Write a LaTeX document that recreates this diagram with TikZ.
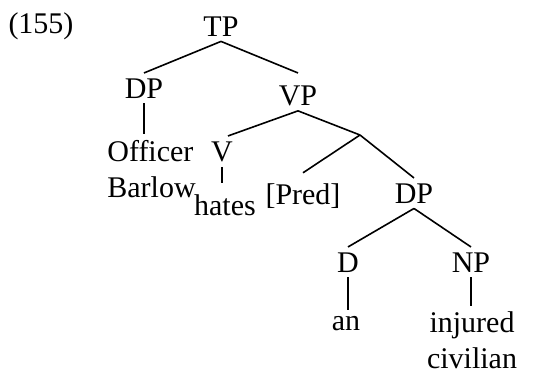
\documentclass[tikz,border=0pt]{standalone}
\usepackage{fontspec}
\setmainfont{Liberation Serif}
\usetikzlibrary{positioning}

\begin{document}
\begin{tikzpicture}[
  x=0.5pt, y=-0.5pt,
  cat/.style={inner sep=2.5pt, anchor=base, font=\fontsize{15}{18}\selectfont},
  leaf/.style={cat, align=center},
  branch/.style={line width=0.8pt},
]
\useasboundingbox (0,0) rectangle (548,376);
\node[cat] (num) at (41,33) {(155)};
\node[cat] (tp) at (221,36) {TP};
\node[cat] (dp) at (144,98) {DP};
\node[cat] (vp) at (298,105) {VP};
\node[leaf, align=left, anchor=base west] (subj) at (102,197) {Officer\\Barlow};
\node[cat] (v) at (222,161) {V};
\node[cat] (hates) at (225,215) {hates};
\coordinate (vbar) at (360,135);
\node[cat] (pred) at (303,204) {[Pred]};
\node[cat] (dpobj) at (414,203) {DP};
\node[cat] (d) at (348,272) {D};
\node[cat] (np) at (471,272) {NP};
\node[cat] (an) at (346,330) {an};
\node[leaf] (adjn) at (472,368) {injured\\civilian};
% branches
\draw[branch] (tp.south) -- (dp.north);
\draw[branch] (tp.south) -- ([yshift=3.5pt]vp.north);
\draw[branch] (dp.south) -- (dp.south |- subj.north);
\draw[branch] (vp.south) -- ([xshift=3pt]v.north);
\draw[branch] (vp.south) -- (vbar);
\draw[branch] (vbar) -- ([yshift=2.5pt]pred.north);
\draw[branch] (vbar) -- (dpobj.north);
\draw[branch] (v.south) -- ([yshift=3pt]v.south |- hates.north);
\draw[branch] (dpobj.south) -- (d.north);
\draw[branch] (dpobj.south) -- (np.north);
\draw[branch] (d.south) -- (d.south |- an.north);
\draw[branch] (np.south) -- (np.south |- adjn.north);
\end{tikzpicture}
\end{document}
